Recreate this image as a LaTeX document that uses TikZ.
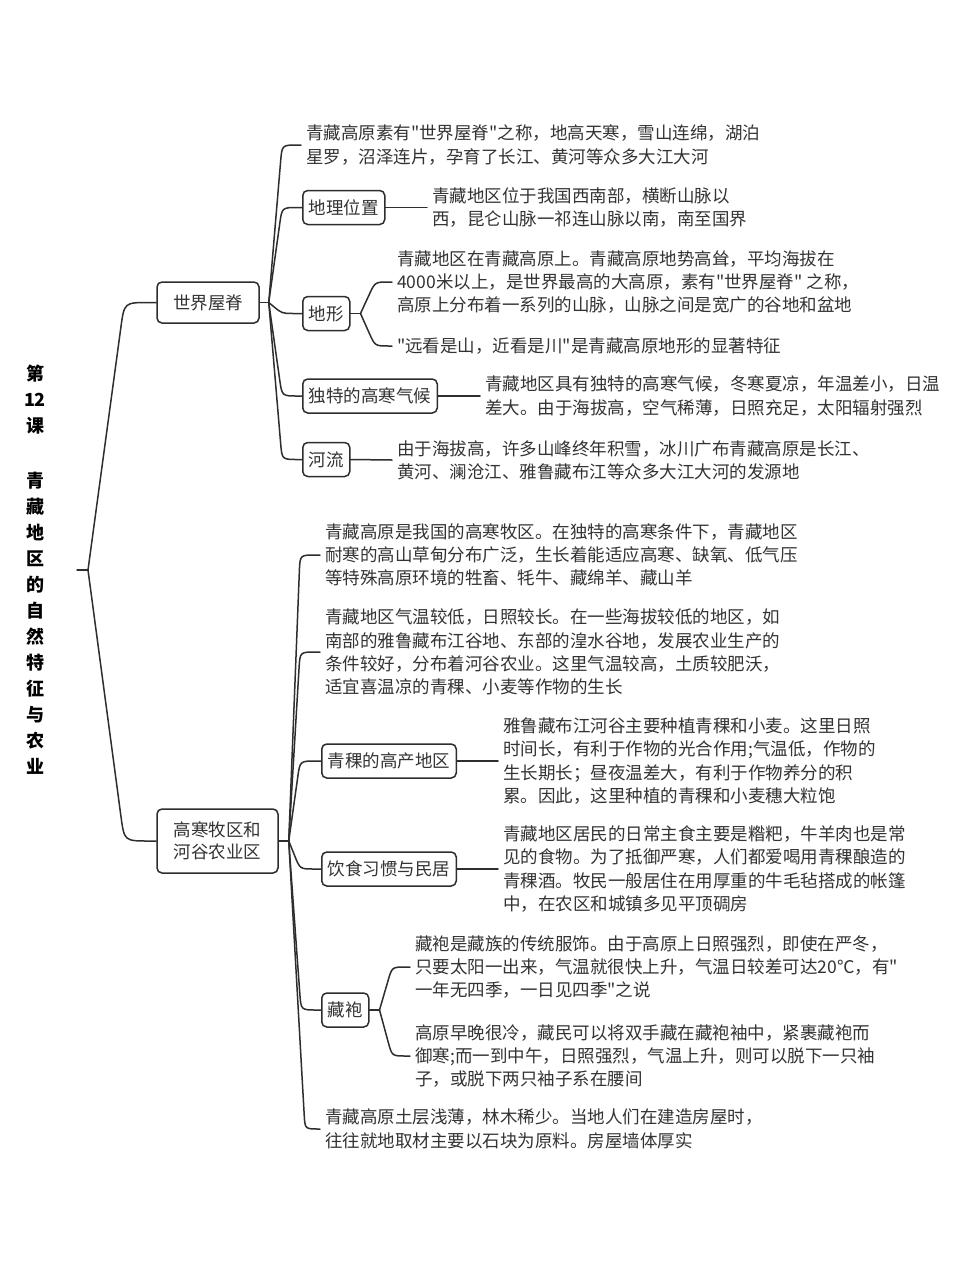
\documentclass[tikz,border=0pt]{standalone}
\usepackage{fontspec}
\newfontfamily\cjkf{Noto Sans CJK SC}
\usetikzlibrary{calc}
\definecolor{txtc}{HTML}{333333}
\definecolor{linec}{HTML}{2E2E2E}
\newcommand\fsz{\cjkf\fontsize{17.5}{23.3}\selectfont}
\newcommand\mmlink[4]{%
  \path (#2.west) ++(-#3,0) coordinate (mmC);
  \draw[conn] (#1) -- ($(mmC)!#4pt!(#1)$) .. controls (mmC) .. ($(mmC)+(#4,0)$) -- (#2.west);
}
\begin{document}
\begin{tikzpicture}[x=1pt,y=-1pt,
  conn/.style={draw=linec, line width=1.5pt, line cap=round},
  lbox/.style={draw=linec, line width=1.5pt, rounded corners=5pt, inner xsep=6pt, inner ysep=0pt,
    minimum height=34pt, text=txtc, font=\fsz, anchor=west},
  topbox/.style={draw=linec, line width=1.5pt, rounded corners=5pt, inner sep=0pt,
    text=txtc, font=\cjkf\fontsize{17.5}{22}\selectfont},
  leaf/.style={inner xsep=5pt, inner ysep=0pt, align=left, text=txtc, font=\fsz, anchor=west},
  titlestyle/.style={inner sep=0pt, align=center, text=black, font=\cjkf\bfseries\fontsize{18}{26}\selectfont}
]
\useasboundingbox (0,0) rectangle (960,1280);
\fill[white] (0,0) rectangle (960,1280);

% title
\node[titlestyle] (title) at (35,570) {第\\12\\课\\[29pt]青\\藏\\地\\区\\的\\自\\然\\特\\征\\与\\农\\业};
\coordinate (rootS) at (77,570);
\coordinate (rootJ) at (88,570);

% level 1
\node[topbox, minimum width=102pt, minimum height=41pt] (B1) at (208,302.5) {世界屋脊};
\node[topbox, minimum width=121pt, minimum height=64pt, align=center] (B2) at (217.5,841) {高寒牧区和\\河谷农业区};
\coordinate (J1) at ($(B1.east)+(9,0)$);
\coordinate (J2) at ($(B2.east)+(10,0)$);

% level 2 boxes
\node[lbox] (L1) at (302,207.5) {地理位置};
\node[lbox] (L2) at (302,313.5) {地形};
\node[lbox] (L3) at (302,396) {独特的高寒气候};
\node[lbox] (L4) at (302,459.5) {河流};
\node[lbox] (L5) at (321,761) {青稞的高产地区};
\node[lbox] (L6) at (321,869) {饮食习惯与民居};
\node[lbox] (L7) at (321,1010) {藏袍};
\coordinate (J3) at ($(L2.east)+(10,0)$);
\coordinate (J4) at ($(L7.east)+(10,0)$);

% leaves
\node[leaf] (T1) at (301,145) {青藏高原素有"世界屋脊"之称，地高天寒，雪山连绵，湖泊\\星罗，沼泽连片，孕育了长江、黄河等众多大江大河};
\node[leaf] (T2) at (427,207.5) {青藏地区位于我国西南部，横断山脉以\\西，昆仑山脉一祁连山脉以南，南至国界};
\node[leaf] (T3) at (392,282) {青藏地区在青藏高原上。青藏高原地势高耸，平均海拔在\\4000米以上，是世界最高的大高原，素有"世界屋脊" 之称，\\高原上分布着一系列的山脉，山脉之间是宽广的谷地和盆地};
\node[leaf] (T4) at (392,346) {"远看是山，近看是川"是青藏高原地形的显著特征};
\node[leaf] (T5) at (480,396) {青藏地区具有独特的高寒气候，冬寒夏凉，年温差小，日温\\差大。由于海拔高，空气稀薄，日照充足，太阳辐射强烈};
\node[leaf] (T6) at (392,460) {由于海拔高，许多山峰终年积雪，冰川广布青藏高原是长江、\\黄河、澜沧江、雅鲁藏布江等众多大江大河的发源地};
\node[leaf] (T7) at (320,555) {青藏高原是我国的高寒牧区。在独特的高寒条件下，青藏地区\\耐寒的高山草甸分布广泛，生长着能适应高寒、缺氧、低气压\\等特殊高原环境的牲畜、牦牛、藏绵羊、藏山羊};
\node[leaf] (T8) at (320,652) {青藏地区气温较低，日照较长。在一些海拔较低的地区，如\\南部的雅鲁藏布江谷地、东部的湟水谷地，发展农业生产的\\条件较好，分布着河谷农业。这里气温较高，土质较肥沃，\\适宜喜温凉的青稞、小麦等作物的生长};
\node[leaf] (T9) at (498,761) {雅鲁藏布江河谷主要种植青稞和小麦。这里日照\\时间长，有利于作物的光合作用;气温低，作物的\\生长期长；昼夜温差大，有利于作物养分的积\\累。因此，这里种植的青稞和小麦穗大粒饱};
\node[leaf] (T10) at (498,869) {青藏地区居民的日常主食主要是糌粑，牛羊肉也是常\\见的食物。为了抵御严寒，人们都爱喝用青稞酿造的\\青稞酒。牧民一般居住在用厚重的牛毛毡搭成的帐篷\\中，在农区和城镇多见平顶碉房};
\node[leaf] (T11) at (410,967) {藏袍是藏族的传统服饰。由于高原上日照强烈，即使在严冬，\\只要太阳一出来，气温就很快上升，气温日较差可达20℃，有"\\一年无四季，一日见四季"之说};
\node[leaf] (T12) at (410,1056) {高原早晚很冷，藏民可以将双手藏在藏袍袖中，紧裹藏袍而\\御寒;而一到中午，日照强烈，气温上升，则可以脱下一只袖\\子，或脱下两只袖子系在腰间};
\node[leaf] (T13) at (320,1129) {青藏高原土层浅薄，林木稀少。当地人们在建造房屋时，\\往往就地取材主要以石块为原料。房屋墙体厚实};

% connectors
\draw[conn] (rootS) -- (rootJ);
\mmlink{rootJ}{B1}{32}{25}
\mmlink{rootJ}{B2}{32}{25}

\draw[conn] (B1.east) -- (J1);
\mmlink{J1}{T1}{19}{16}
\mmlink{J1}{L1}{20}{16}
\mmlink{J1}{L2}{20}{12}
\mmlink{J1}{L3}{20}{16}
\mmlink{J1}{L4}{20}{16}
\draw[conn] (L1.east) -- (T2.west);
\draw[conn] (L2.east) -- (J3);
\mmlink{J3}{T3}{17}{14}
\mmlink{J3}{T4}{17}{14}
\draw[conn] (L3.east) -- (T5.west);
\draw[conn] (L4.east) -- (T6.west);

\draw[conn] (B2.east) -- (J2);
\mmlink{J2}{T7}{20}{16}
\mmlink{J2}{T8}{20}{16}
\mmlink{J2}{L5}{21}{16}
\mmlink{J2}{L6}{21}{14}
\mmlink{J2}{L7}{20}{16}
\mmlink{J2}{T13}{15}{14}
\draw[conn] (L5.east) -- (T9.west);
\draw[conn] (L6.east) -- (T10.west);
\draw[conn] (L7.east) -- (J4);
\mmlink{J4}{T11}{18}{14}
\mmlink{J4}{T12}{18}{14}
\end{tikzpicture}
\end{document}
